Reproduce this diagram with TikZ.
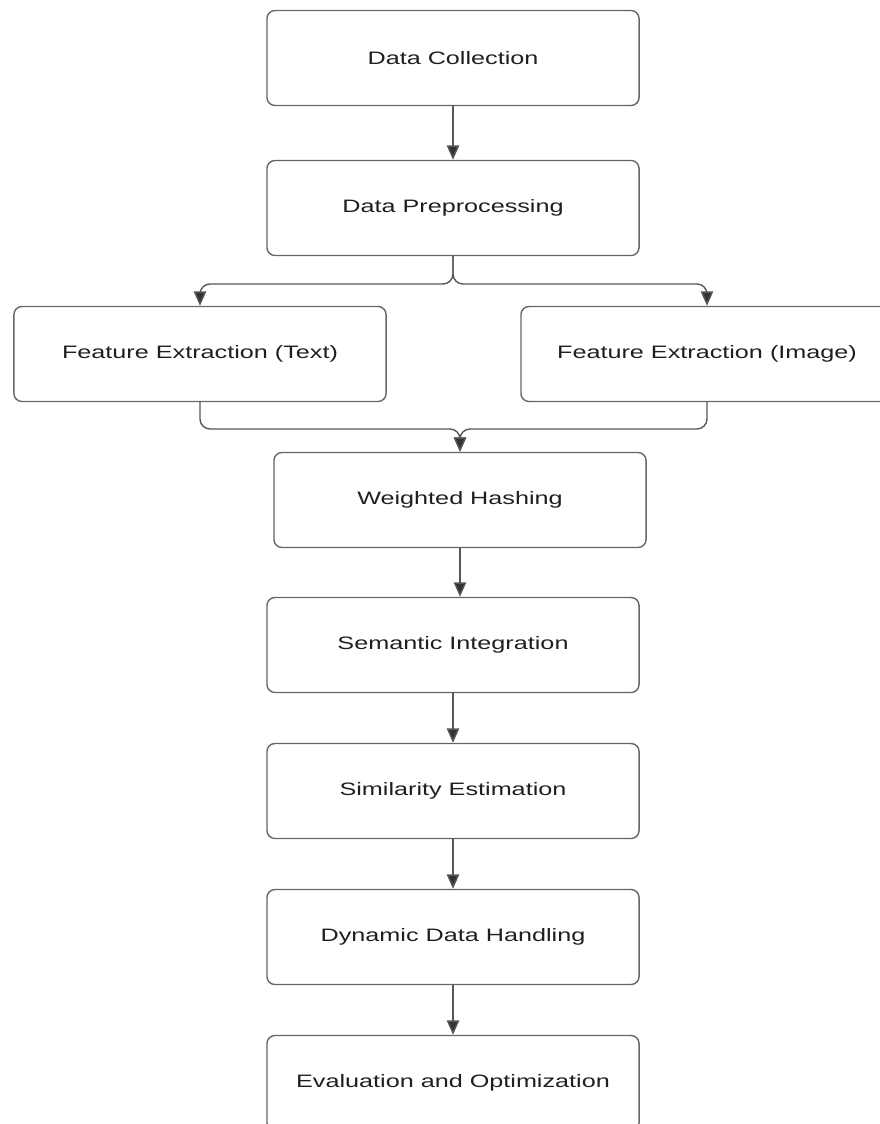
\documentclass[tikz,border=0pt]{standalone}
\usepackage{fontspec}
\setmainfont{Liberation Sans}[FakeStretch=1.40]
\usetikzlibrary{arrows.meta}
\definecolor{edgegray}{HTML}{666666}
\definecolor{tipgray}{HTML}{333333}
\begin{document}
\begin{tikzpicture}[x=0.025cm, y=-0.025cm, font=\fontsize{12.8}{15}\selectfont, line join=round, line cap=round,
    stage/.style={draw=edgegray, line width=1pt, rounded corners=0.2cm, minimum width=9.3cm, minimum height=2.375cm, text=black!88, inner sep=0pt},
    flow/.style={draw=edgegray!85!black, line width=1pt, -{Triangle[length=0.36cm, width=0.31cm, fill=tipgray]}},
    >=stealth]
            \useasboundingbox (0,0) rectangle (880,1124);
            \clip (0,0) rectangle (880,1124);
            \node[stage] (dc) at (453,58) {Data Collection};
            \node[stage] (dp) at (453,208) {Data Preprocessing};
            \node[stage] (fet) at (200,354) {Feature Extraction (Text)};
            \node[stage] (fei) at (707,354) {Feature Extraction (Image)};
            \node[stage] (wh) at (460,500) {Weighted Hashing};
            \node[stage] (si) at (453,645) {Semantic Integration};
            \node[stage] (se) at (453,791) {Similarity Estimation};
            \node[stage] (ddh) at (453,937) {Dynamic Data Handling};
            \node[stage] (eo) at (453,1083) {Evaluation and Optimization};
            \coordinate (split) at (453,284);
            \coordinate (merge) at (460,429);
            \draw[flow] (dc) -- (dp);
            \draw[flow, rounded corners=0.25cm] (dp.south) -- (split) -| (fet.north);
            \draw[flow, rounded corners=0.25cm] (dp.south) -- (split) -| (fei.north);
            \draw[flow, rounded corners=0.25cm] (fet.south) |- (merge) -- (wh.north);
            \draw[flow, rounded corners=0.25cm] (fei.south) |- (merge) -- (wh.north);
            \draw[flow] (wh.south) -- (wh.south |- si.north);
            \draw[flow] (si) -- (se);
            \draw[flow] (se) -- (ddh);
            \draw[flow] (ddh) -- (eo);
        \end{tikzpicture}
\end{document}
